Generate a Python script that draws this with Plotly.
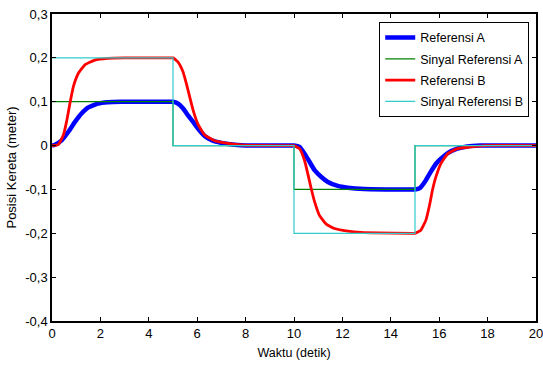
import plotly.graph_objects as go

# Train position responses (time in seconds, position in metres)
t_ref_a = [0, 0.12, 0.4, 0.67, 0.95, 1.22, 1.5, 1.9, 2.3, 2.87, 4.0, 4.9, 5.0, 5.2, 5.41, 5.62,
           5.83, 6.03, 6.31, 6.6, 7.0, 7.55, 8.0, 9.0, 9.9, 10.0, 10.23, 10.43, 10.64, 10.85,
           11.12, 11.4, 11.81, 12.22, 12.9, 14.0, 14.9, 15.0, 15.2, 15.45, 15.65, 15.86, 16.07,
           16.35, 16.75, 17.16, 17.7, 20]
y_ref_a = [0, 0.002, 0.012, 0.031, 0.054, 0.073, 0.087, 0.096, 0.099, 0.1, 0.1, 0.1, 0.1, 0.096,
           0.085, 0.069, 0.054, 0.039, 0.022, 0.012, 0.006, 0.002, 0, 0, 0, 0, -0.003, -0.018,
           -0.037, -0.056, -0.071, -0.083, -0.092, -0.096, -0.099, -0.1, -0.1, -0.1, -0.097,
           -0.079, -0.060, -0.042, -0.030, -0.017, -0.007, -0.002, 0, 0]

t_ref_b = [0, 0.26, 0.47, 0.6, 0.74, 0.88, 1.09, 1.36, 1.77, 2.3, 3.0, 4.9, 5.0, 5.2, 5.41, 5.55,
           5.69, 5.83, 6.03, 6.31, 6.72, 7.27, 7.9, 9.9, 10.0, 10.23, 10.43, 10.57, 10.71, 10.85,
           11.05, 11.33, 11.67, 12.22, 12.77, 14.9, 15.0, 15.24, 15.45, 15.6, 15.72, 15.86, 16.07,
           16.35, 16.75, 17.3, 17.85, 20]
y_ref_b = [0, 0.002, 0.024, 0.054, 0.096, 0.134, 0.165, 0.184, 0.195, 0.199, 0.2, 0.2, 0.2, 0.191,
           0.169, 0.142, 0.111, 0.081, 0.049, 0.024, 0.011, 0.005, 0.001, 0, 0, -0.007, -0.033,
           -0.064, -0.098, -0.128, -0.159, -0.179, -0.189, -0.195, -0.198, -0.2, -0.2, -0.193,
           -0.170, -0.136, -0.102, -0.072, -0.041, -0.019, -0.007, -0.003, 0, 0]

# Step reference signals
t_sig = [0, 5, 10, 15, 20]
y_sig_a = [0.1, 0, -0.1, 0, 0]
y_sig_b = [0.2, 0, -0.2, 0, 0]

y_ticks = [0.3, 0.2, 0.1, 0, -0.1, -0.2, -0.3, -0.4]
y_tick_text = ["0,3", "0,2", "0,1", "0", "-0,1", "-0,2", "-0,3", "-0,4"]
x_ticks = [0, 2, 4, 6, 8, 10, 12, 14, 16, 18, 20]

FONT = "Liberation Sans, Arial"

fig = go.Figure()
fig.add_trace(go.Scatter(x=t_ref_a, y=y_ref_a, name="Referensi A", mode="lines", legendgroup="a",
                         line=dict(color="#0000ff", width=4.5, shape="spline", smoothing=0.4)))
fig.add_trace(go.Scatter(x=t_sig, y=y_sig_a, name="Sinyal Referensi A", mode="lines", legendgroup="b",
                         line=dict(color="#008000", width=1.2, shape="hv")))
fig.add_trace(go.Scatter(x=t_ref_b, y=y_ref_b, name="Referensi B", mode="lines", legendgroup="c",
                         line=dict(color="#ff0000", width=2.8, shape="spline", smoothing=0.4)))
fig.add_trace(go.Scatter(x=t_sig, y=y_sig_b, name="Sinyal Referensi B", mode="lines", legendgroup="d",
                         line=dict(color="#33cccc", width=1.2, shape="hv")))

axis_style = dict(showline=True, linecolor="black", linewidth=1.5, mirror="ticks",
                  ticks="inside", ticklen=4, tickcolor="black", showgrid=False,
                  zeroline=False, automargin=False, ticklabeloverflow="allow",
                  tickfont=dict(family=FONT, size=13, color="black"))

fig.update_layout(
    width=543, height=368,
    margin=dict(l=52, r=7, t=14, b=47),
    paper_bgcolor="white", plot_bgcolor="white",
    font=dict(family=FONT, size=13, color="black"),
    xaxis=dict(range=[0, 20], tickvals=x_ticks,
               title=dict(text="Waktu (detik)", standoff=8, font=dict(size=12.5)),
               **axis_style),
    yaxis=dict(range=[-0.4, 0.3], tickvals=y_ticks, ticktext=y_tick_text,
               title=dict(text="Posisi Kereta (meter)", standoff=6, font=dict(size=13)),
               **axis_style),
    legend=dict(x=0.986, y=0.974, xanchor="right", yanchor="top",
                bgcolor="white", bordercolor="black", borderwidth=1,
                font=dict(size=12.5), tracegroupgap=2),
    showlegend=True,
)

fig.write_html("out.html")
